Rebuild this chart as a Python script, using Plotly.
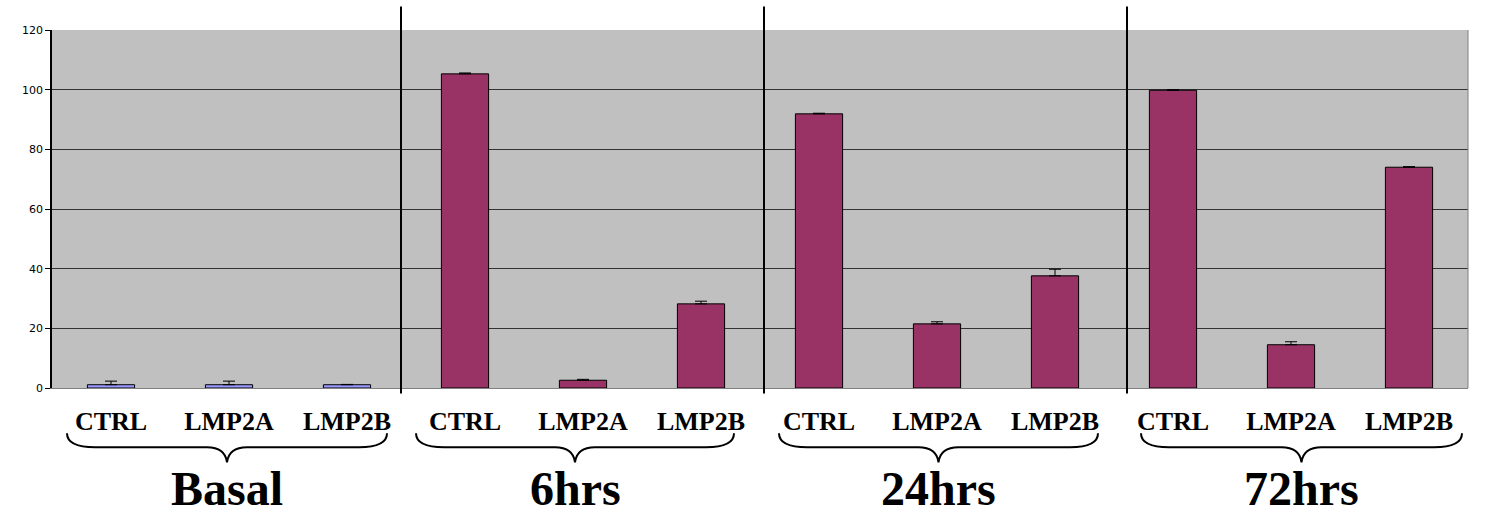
import plotly.graph_objects as go

# Groups, conditions and measured values (mean and upper error)
groups = ["Basal", "6hrs", "24hrs", "72hrs"]
conditions = ["CTRL", "LMP2A", "LMP2B"]

basal_vals = [1.1, 1.1, 1.1]
basal_err = [1.2, 1.2, 0.1]
h6_vals = [105.3, 2.6, 28.2]
h6_err = [0.3, 0.3, 0.9]
h24_vals = [91.9, 21.5, 37.6]
h24_err = [0.2, 0.7, 2.2]
h72_vals = [99.8, 14.5, 74.0]
h72_err = [0.2, 1.0, 0.2]

y_ticks = [0, 20, 40, 60, 80, 100, 120]

values = basal_vals + h6_vals + h24_vals + h72_vals
errors = basal_err + h6_err + h24_err + h72_err
xpos = list(range(len(values)))
ticktext = conditions * len(groups)
colors = ["#9999FF"] * 3 + ["#993366"] * 9

W, H = 1490, 515
L, R, T, B = 52, 1468, 29.5, 388.5


def px(x):
    return (x - L) / (R - L)


def py(y):
    return (B - y) / (B - T)


fig = go.Figure()
fig.add_trace(go.Bar(
    x=xpos, y=values,
    marker=dict(color=colors, line=dict(color="#000000", width=1)),
    error_y=dict(type="data", symmetric=False, array=errors,
                 arrayminus=[0] * len(errors),
                 color="#000000", thickness=1, width=6),
    showlegend=False,
))

shapes = []
# right border of the plotting area
shapes.append(dict(type="line", xref="paper", yref="paper", x0=1, x1=1, y0=0, y1=1,
                   line=dict(color="#808080", width=1)))
# vertical separators between time points
for sx in [401, 764, 1127]:
    shapes.append(dict(type="line", xref="paper", yref="paper",
                       x0=px(sx), x1=px(sx), y0=py(6), y1=py(394),
                       line=dict(color="#000000", width=2)))

# curly braces under each group
brace_spans = [(67, 387), (416, 734), (779, 1098), (1141, 1462)]
y_top, y_mid, y_tip = 434, 448, 463
for x0, x1 in brace_spans:
    m = (x0 + x1) / 2
    pts = (
        f"M {px(x0)},{py(y_top)} "
        f"Q {px(x0)},{py(y_mid)} {px(x0 + 28)},{py(y_mid)} "
        f"L {px(m - 20)},{py(y_mid)} "
        f"Q {px(m - 2)},{py(y_mid)} {px(m)},{py(y_tip)} "
        f"Q {px(m + 2)},{py(y_mid)} {px(m + 20)},{py(y_mid)} "
        f"L {px(x1 - 28)},{py(y_mid)} "
        f"Q {px(x1)},{py(y_mid)} {px(x1)},{py(y_top)}"
    )
    shapes.append(dict(type="path", xref="paper", yref="paper", path=pts,
                       line=dict(color="#000000", width=2)))

annotations = []
for (x0, x1), g in zip(brace_spans, groups):
    annotations.append(dict(
        text=f"<b>{g}</b>", xref="paper", yref="paper",
        x=px((x0 + x1) / 2), y=py(489), xanchor="center", yanchor="middle",
        showarrow=False,
        font=dict(family="Liberation Serif", size=48, color="#000000"),
    ))

fig.update_layout(
    width=W, height=H,
    margin=dict(l=L, r=W - R, t=T, b=H - B, autoexpand=False),
    paper_bgcolor="#FFFFFF",
    plot_bgcolor="#C0C0C0",
    bargap=0.6,
    shapes=shapes,
    annotations=annotations,
    xaxis=dict(
        range=[-0.5, 11.5],
        tickmode="array", tickvals=xpos, ticktext=[f"<b>{t}</b>" for t in ticktext],
        ticks="", showgrid=False, zeroline=False,
        showline=True, linecolor="#808080", linewidth=1,
        ticklabelstandoff=10,
        tickfont=dict(family="Liberation Serif", size=26, color="#000000"),
    ),
    yaxis=dict(
        range=[0, 120],
        tickmode="array", tickvals=y_ticks,
        ticks="outside", ticklen=5, tickcolor="#000000",
        showgrid=True, gridcolor="#333333", gridwidth=1,
        zeroline=False,
        showline=True, linecolor="#000000", linewidth=1.5,
        tickfont=dict(family="DejaVu Sans", size=11, color="#000000"),
    ),
)

fig.write_html("out.html")
